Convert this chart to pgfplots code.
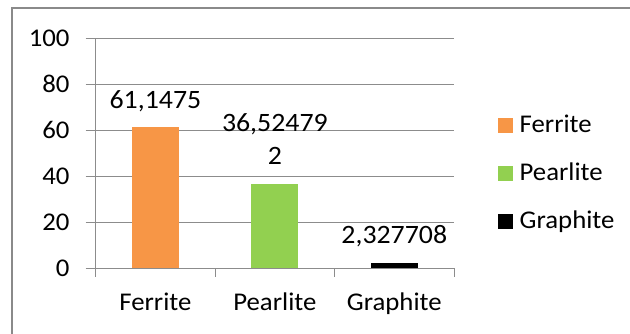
\documentclass[border=0pt]{standalone}
\usepackage{pgfplots}
\pgfplotsset{compat=1.18}
\usepackage{fontspec}
\setmainfont{Carlito}[FakeStretch=1.05]
\definecolor{ferr}{HTML}{F79646}
\definecolor{pearl}{HTML}{92D050}
\definecolor{gridc}{HTML}{8C8C8C}
\definecolor{framec}{HTML}{8A8A8A}
\begin{document}
\begin{tikzpicture}[x=1pt,y=1pt]
\useasboundingbox (0,0) rectangle (630,334);
\clip (0,0) rectangle (630,334);
\fill[white] (0,0) rectangle (630,334);
\draw[framec, line width=2.5pt] (12,-10) -- (12,326) -- (650,326);
\begin{axis}[
  at={(95.7pt,66pt)}, anchor=south west,
  scale only axis, width=358.3pt, height=230pt,
  xmin=-0.5, xmax=2.5, ymin=0, ymax=100,
  ytick={0,20,40,60,80,100},
  xtick={0,1,2}, xticklabels={Ferrite,Pearlite,Graphite},
  minor xtick={-0.5,0.5,1.5,2.5},
  axis x line*=bottom, axis y line*=left,
  axis line style={gridc, line width=0.9pt},
  ymajorgrids, grid style={gridc, line width=0.9pt},
  tick align=outside,
  major tick length=10pt, minor tick length=9pt,
  major x tick style={draw=none},
  minor x tick style={gridc, line width=0.9pt},
  ytick style={gridc, line width=0.9pt},
  /pgf/number format/assume math mode=true,
  tick label style={font=\fontsize{25.5}{30}\selectfont, text=black, inner sep=0pt},
  yticklabel style={anchor=east, xshift=-16pt},
  xticklabel style={anchor=base, yshift=-33pt},
  every node near coord/.append style={font=\fontsize{26.5}{33}\selectfont, text=black, anchor=base, yshift=19pt, inner sep=0pt},
  legend style={draw=none, fill=none, at={(axis description cs:1.123,0.41)}, anchor=west, inner sep=0pt,
    font=\fontsize{25.5}{30}\selectfont, nodes={inner sep=0pt, text height=19pt, text depth=5pt}, row sep=24pt, column sep=7pt},
  legend cell align=left,
]
\addplot[ybar, bar width=47pt, bar shift=0pt, fill=ferr, draw=none, forget plot, nodes near coords={61,1475}] coordinates {(0,61.1475)};
\addplot[ybar, bar width=47pt, bar shift=0pt, fill=pearl, draw=none, forget plot, nodes near coords={\begin{tabular}[b]{@{}c@{}}36,52479\\2\end{tabular}}] coordinates {(1,36.524792)};
\addplot[ybar, bar width=47pt, bar shift=0pt, fill=black, draw=none, forget plot, nodes near coords={2,327708}] coordinates {(2,2.327708)};
\addlegendimage{legend image code/.code={\fill[ferr] (0pt,-7pt) rectangle (14pt,7pt);}}
\addlegendentry{Ferrite}
\addlegendimage{legend image code/.code={\fill[pearl] (0pt,-7pt) rectangle (14pt,7pt);}}
\addlegendentry{Pearlite}
\addlegendimage{legend image code/.code={\fill[black] (0pt,-7pt) rectangle (14pt,7pt);}}
\addlegendentry{Graphite}
\end{axis}
\end{tikzpicture}
\end{document}
